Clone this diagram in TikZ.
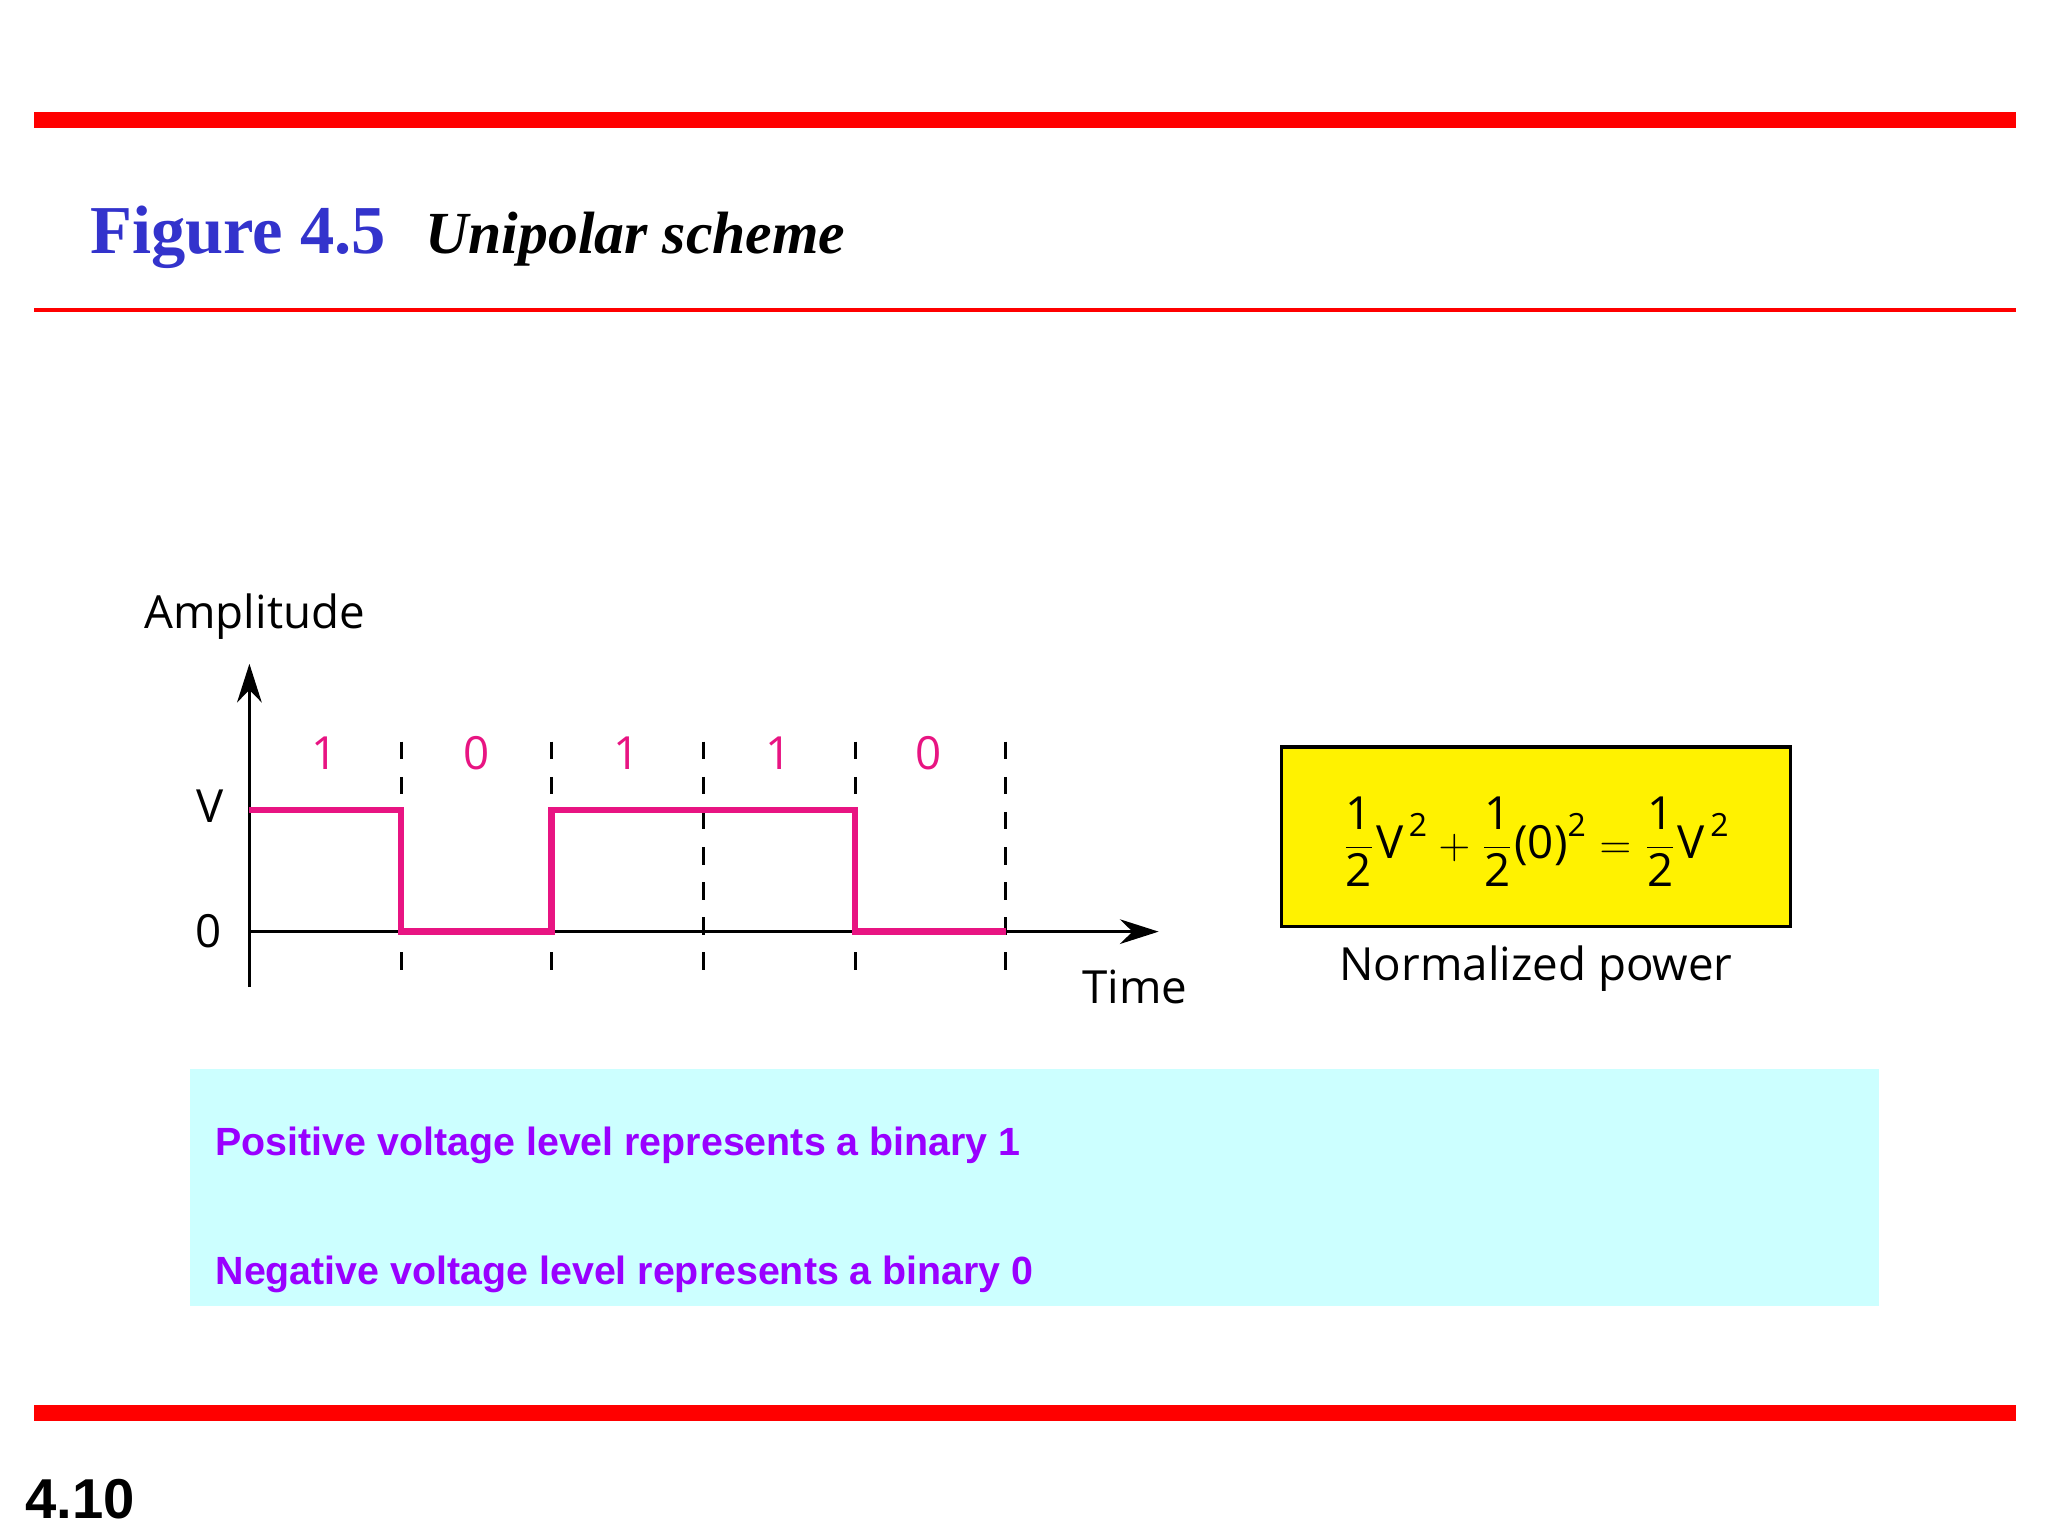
\documentclass[tikz,border=0pt]{standalone}
\usepackage{amsmath}
\usepackage{fontspec}
\setmainfont{Open Sans}
\newfontfamily\slidesans{Liberation Sans}
\newfontfamily\slideserif{Liberation Serif}
\usetikzlibrary{arrows.meta}
\definecolor{sigmag}{RGB}{232,20,130}
\definecolor{titleblue}{RGB}{51,51,204}
\definecolor{slidecyan}{RGB}{204,255,255}
\definecolor{slidepurple}{RGB}{153,0,255}
\tikzset{
  redthick/.style={red,line width=4.5pt},
  bitlbl/.style={text=sigmag,font=\fontsize{13}{15}\selectfont},
  axlbl/.style={font=\fontsize{13}{15}\selectfont},
  dashln/.style={black,line width=0.8pt,dash pattern=on 5pt off 5pt},
  sig/.style={sigmag,line width=1.8pt},
  bodytxt/.style={anchor=west,text=slidepurple,font=\slidesans\bfseries\fontsize{11.2}{13}\selectfont}
}
\begin{document}
\begin{tikzpicture}[x=0.0132cm,y=-0.0132cm]
\useasboundingbox (0,0) rectangle (1552,1164);
\fill[white] (0,0) rectangle (1552,1164);
\draw[redthick] (26,91) -- (1528,91);
\draw[red,line width=1.1pt] (26,235) -- (1528,235);
\draw[redthick] (26,1071) -- (1528,1071);
\node[anchor=base west,text=titleblue,font=\slideserif\bfseries\fontsize{19.5}{22}\selectfont,inner sep=0] (t1) at (68,192) {Figure 4.5};
\node[anchor=base west,font=\slideserif\bfseries\itshape\fontsize{17}{20}\selectfont,inner sep=0] (t2) at (322,192) {Unipolar scheme};
% axes
\coordinate (o) at (189,706);
\coordinate (ybot) at (189,748);
\coordinate (ytop) at (189,503);
\coordinate (xend) at (878,706);
\draw[line width=1pt,-{Stealth[length=11pt,width=7pt]}] (ybot) -- (ytop);
\draw[line width=1pt,-{Stealth[length=11pt,width=7pt]}] (o) -- (xend);
\node[axlbl] (amp) at (193,467) {Amplitude};
\node[axlbl] (v) at (159,611) {V};
\node[axlbl] (z) at (158,706) {0};
\node[axlbl] (time) at (860,748) {Time};
\foreach \x in {304,418,533,648,762}{
  \draw[dashln] (\x,562) -- (\x,745);
}
\foreach \x/\b in {246/1,361/0,475/1,590/1,704/0}{
  \node[bitlbl] at (\x,571) {\b};
}
\draw[sig] (189,614) -- (304,614) -- (304,706) -- (418,706) -- (418,614) -- (648,614) -- (648,706) -- (762,706);
% power box
\node[draw=black,line width=1pt,fill=yellow,minimum width=386*0.0132cm,minimum height=136*0.0132cm,inner sep=0] (pbox) at (1164,634) {};
\node[font=\fontsize{13}{16}\selectfont] (formula) at (1164,638)
 {$\dfrac{\text{1}}{\text{2}}\text{V}^{\,\text{2}} + \dfrac{\text{1}}{\text{2}}\text{(0)}^{\text{2}} = \dfrac{\text{1}}{\text{2}}\text{V}^{\,\text{2}}$};
\node[axlbl] (np) at (1164,734) {Normalized power};
% cyan box
\fill[slidecyan] (144,810) rectangle (1424,990);
\node[bodytxt] (l1) at (154,868) {Positive voltage level represents a binary 1};
\node[bodytxt] (l2) at (154,966) {Negative voltage level represents a binary 0};
\node[anchor=west,font=\slidesans\bfseries\fontsize{16}{19}\selectfont] (pg) at (10,1136) {4.10};
\end{tikzpicture}
\end{document}
